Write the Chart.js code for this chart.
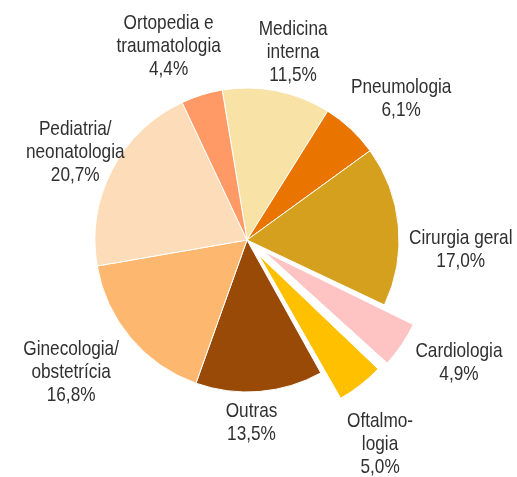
<!DOCTYPE html>
<html>
<head>
<meta charset="utf-8">
<script src="https://cdn.jsdelivr.net/npm/chart.js@4.4.1/dist/chart.umd.min.js"></script>
<style>
  html, body { margin: 0; padding: 0; background: #fff; }
  #wrap { width: 517px; height: 477px; }
</style>
</head>
<body>
<div id="wrap"><canvas id="chartSpecialties"></canvas></div>
<script>
// categories, clockwise from the top
var categories = [
	['Medicina', 'interna'],
	['Pneumologia'],
	['Cirurgia geral'],
	['Cardiologia'],
	['Oftalmo-', 'logia'],
	['Outras'],
	['Ginecologia/', 'obstetrícia'],
	['Pediatria/', 'neonatologia'],
	['Ortopedia e', 'traumatologia']
];
var shares = [11.5, 6.1, 17.0, 4.9, 5.0, 13.5, 16.8, 20.7, 4.4];
var shareLabels = ['11,5%', '6,1%', '17,0%', '4,9%', '5,0%', '13,5%', '16,8%', '20,7%', '4,4%'];

var sliceColors = [
	'#f9e2a6', // Medicina interna
	'#e97500', // Pneumologia
	'#d4a01e', // Cirurgia geral
	'#fec4c4', // Cardiologia
	'#ffc000', // Oftalmologia
	'#994a06', // Outras
	'#fdb76e', // Ginecologia
	'#fddcb9', // Pediatria
	'#ff9966'  // Ortopedia
];
var sliceOffsets = [0, 0, 0, 82, 76, 0, 0, 0, 0];

// label placement: distance from centre and small angle nudge (deg)
var labelDist = [193, 209, 214, 245, 244, 183, 220, 193, 209];
var labelNudge = [2.5, 4.5, 8, -4, 5, 3.3, 3.2, -0.3, -4.7];

var sliceLabels = {
	id: 'sliceLabels',
	afterDatasetsDraw: function(chart) {
		var ctx = chart.ctx;
		var arcs = chart.getDatasetMeta(0).data;
		ctx.save();
		// narrow sans look: regular face squeezed horizontally
		ctx.font = '21px "Liberation Sans", Arial, sans-serif';
		ctx.fillStyle = '#303030';
		ctx.textAlign = 'center';
		ctx.textBaseline = 'middle';
		for (var i = 0; i < arcs.length; i++) {
			var a = arcs[i];
			var mid = (a.startAngle + a.endAngle) / 2 + labelNudge[i] * Math.PI / 180;
			var cx = a.x + Math.cos(mid) * labelDist[i];
			var cy = a.y + Math.sin(mid) * labelDist[i];
			var lines = categories[i].concat([shareLabels[i]]);
			var lh = 23;
			var top = cy - (lines.length - 1) * lh / 2;
			for (var j = 0; j < lines.length; j++) {
				ctx.save();
				ctx.translate(cx, top + j * lh);
				ctx.scale(0.82, 1);
				ctx.fillText(lines[j], 0, 0);
				ctx.restore();
			}
		}
		ctx.restore();
	}
};

var chart = new Chart(document.getElementById('chartSpecialties'), {
	type: 'pie',
	data: {
		labels: categories.map(function(c) { return c.join(' '); }),
		datasets: [{
			data: shares,
			backgroundColor: sliceColors,
			borderColor: '#ffffff',
			borderWidth: 1,
			offset: sliceOffsets
		}]
	},
	options: {
		responsive: true,
		maintainAspectRatio: false,
		animation: false,
		rotation: -9.4,
		radius: 152,
		layout: { padding: { left: 0, right: 23, top: 3, bottom: 0 } },
		plugins: {
			legend: { display: false },
			tooltip: { enabled: false }
		}
	},
	plugins: [sliceLabels]
});
</script>
</body>
</html>
